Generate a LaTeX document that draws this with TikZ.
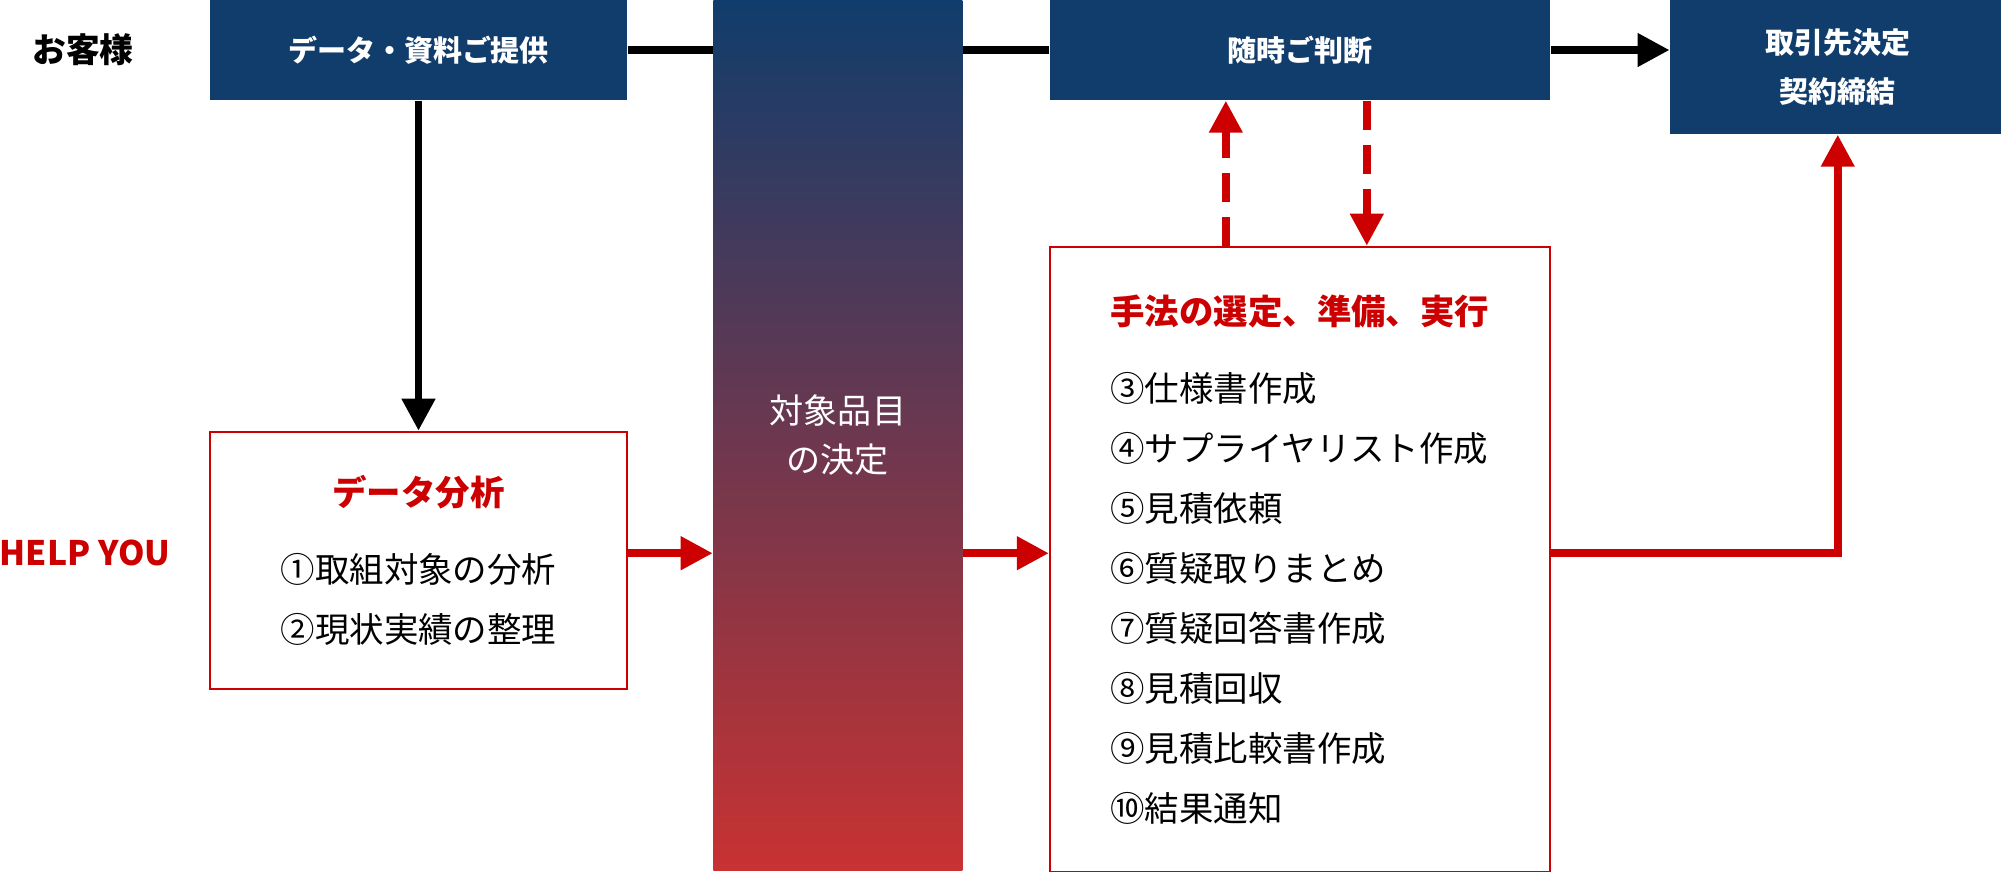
\documentclass[tikz,border=0pt]{standalone}
\usepackage{fontspec}
\setmainfont{Noto Sans CJK JP}
\usetikzlibrary{positioning, arrows.meta}

\definecolor{navy}{RGB}{16,61,108}
\definecolor{signal}{RGB}{204,0,0}
\definecolor{dusk}{RGB}{200,50,50}

\begin{document}
\begin{tikzpicture}[node distance=1cm]
\tikzstyle{navybox} = [rectangle, fill=navy, text=white, inner sep=0pt, minimum width=4.17cm, minimum height=1cm, align=center, font=\fontsize{8.25pt}{13.94pt}\selectfont\bfseries]
\tikzstyle{redbox} = [rectangle, draw=signal, line width=0.02cm, inner sep=0pt, minimum width=4.17cm, font=\fontsize{9.8pt}{17.07pt}\selectfont]
\tikzstyle{pillar} = [rectangle, inner sep=0pt, minimum width=2.49cm, minimum height=8.7cm, top color=navy, bottom color=dusk, text=white, align=center, font=\fontsize{9.7pt}{13.94pt}\selectfont]
\tikzstyle{rowlabel} = [inner sep=0pt, font=\fontsize{9.6pt}{12pt}\selectfont\bfseries]
\tikzstyle{line} = [line width=0.075cm]
\tikzstyle{arrow} = [line width=0.075cm, ->, >={Triangle[length=0.32cm,width=0.32cm]}]
\tikzstyle{dasharrow} = [arrow, signal, dash pattern=on 0.29cm off 0.15cm]

\useasboundingbox (0,0) rectangle (20.01,-8.71);

% top row
\node (data) [navybox] at (4.185,-0.5) {データ・資料ご提供};
\node (cust) [rowlabel, left=0.75cm of data] {お客様};
\node (decide) [pillar, right=0.85cm of data.north east, anchor=north west] {対象品目\\の決定};
\node (judge) [navybox, minimum width=5cm, right=0.86cm of decide.north east, anchor=north west] {随時ご判断};
\node (contract) [navybox, minimum width=3.35cm, minimum height=1.34cm, right=1.19cm of judge.north east, anchor=north west] {取引先決定\\契約締結};

% help you row
\node (analysis) [redbox, minimum height=2.57cm, align=center, below=3.3cm of data] {{\color{signal}\bfseries データ分析}\\[0.17cm]①取組対象の分析\\②現状実績の整理};
\node (help) [rowlabel, text=signal, left=0.38cm of analysis, yshift=0.07cm] {HELP YOU};
\node (method) [redbox, minimum width=5cm, minimum height=6.25cm, align=left, below=1.45cm of judge] {{\color{signal}\bfseries 手法の選定、準備、実行}\\[0.17cm]③仕様書作成\\④サプライヤリスト作成\\⑤見積依頼\\⑥質疑取りまとめ\\⑦質疑回答書作成\\⑧見積回収\\⑨見積比較書作成\\⑩結果通知};

\draw [line] (data) -- (data -| decide.west);
\draw [line] (decide.east |- judge) -- (judge);
\draw [arrow] (judge) -- (contract.west |- judge);
\draw [arrow] (data) -- (analysis);

\draw [arrow, signal] (analysis.east |- help) -- (decide.west |- help);
\draw [arrow, signal] (decide.east |- help) -- (method.west |- help);
\draw [arrow, signal] (method.east |- help) -| (contract);
\draw [dasharrow] ([xshift=-0.74cm]method.north) -- ([xshift=-0.74cm]judge.south);
\draw [dasharrow] ([xshift=0.67cm]judge.south) -- ([xshift=0.67cm]method.north);
\end{tikzpicture}
\end{document}
